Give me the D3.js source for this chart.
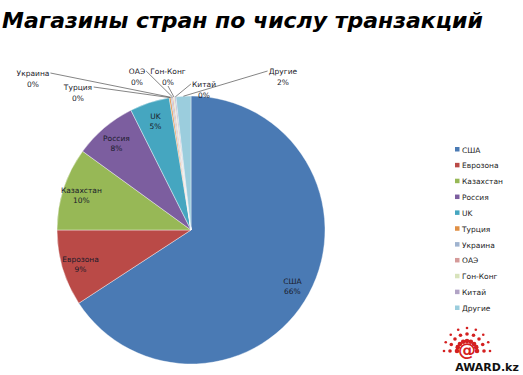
<!DOCTYPE html>
<html>
<head>
<meta charset="utf-8">
<script src="https://cdn.jsdelivr.net/npm/d3@7"></script>
<style>
  body { margin: 0; background: #fff; }
  svg { display: block; }
  text { font-family: "DejaVu Sans", sans-serif; }
</style>
</head>
<body>
<script>
// данные
var countries = ['США', 'Еврозона', 'Казахстан', 'Россия', 'UK', 'Турция', 'Украина', 'ОАЭ', 'Гон-Конг', 'Китай', 'Другие'];
var shares = [65.8, 9.2, 10.0, 7.6, 4.8, 0.2, 0.15, 0.15, 0.15, 0.15, 1.8];
var colors = ['#4A7AB4', '#BA4A47', '#97B856', '#7C5E9F', '#45A6C0', '#E08F44',
              '#9FB3CF', '#D59A99', '#D8E3BC', '#B1A3C5', '#9BCDDD'];
var title = 'Магазины стран по числу транзакций';

// подписи снаружи (руками, как в экселе)
var outside = {
  'Украина':  [-158, -154],
  'Турция':   [-113, -140],
  'ОАЭ':      [-54, -156],
  'Гон-Конг': [-23, -156],
  'Китай':    [13, -143],
  'Другие':   [92, -156]
};

var width = 523, height = 375;
var cx = 191, cy = 230, R = 134;

var svg = d3.select('body').append('svg')
  .attr('width', width)
  .attr('height', height);

// заголовок
var t = svg.append('text')
  .attr('x', 2)
  .attr('y', 28)
  .attr('font-family', '"Open Sans", Lato, sans-serif')
  .attr('font-style', 'italic')
  .attr('font-weight', 'bold')
  .attr('font-size', 28)
  .attr('fill', '#000')
  .text(title);
var tw = t.node().getComputedTextLength();
t.attr('font-size', 28 * 481 / tw);

var data = countries.map(function(c, i) {
  return { name: c, value: shares[i], color: colors[i] };
});
var total = d3.sum(shares);

var pie = d3.pie()
  .sort(null)
  .value(function(d) { return d.value; });
var arcs = pie(data);
var arc = d3.arc().innerRadius(0).outerRadius(R);

var g = svg.append('g')
  .attr('transform', 'translate(' + cx + ',' + cy + ')');

g.selectAll('path')
  .data(arcs)
  .enter().append('path')
    .attr('d', arc)
    .attr('fill', function(d) { return d.data.color; })
    .attr('stroke', '#fff')
    .attr('stroke-width', 0.4);

function pct(d) {
  return Math.round(d.data.value / total * 100) + '%';
}

// подписи внутри
var inner = arcs.filter(function(d) { return !outside[d.data.name]; });
var labelArc = d3.arc().innerRadius(R * 0.86).outerRadius(R * 0.86);
var lab = g.selectAll('.inlab')
  .data(inner)
  .enter().append('text')
    .attr('class', 'inlab')
    .attr('text-anchor', 'middle')
    .attr('font-size', 7.5)
    .attr('fill', '#1a1a2a')
    .attr('transform', function(d) {
      return 'translate(' + labelArc.centroid(d) + ')';
    });
lab.append('tspan').attr('x', 0).attr('dy', -1).text(function(d) { return d.data.name; });
lab.append('tspan').attr('x', 0).attr('dy', 10).text(pct);

// подписи снаружи + выноски
var outer = arcs.filter(function(d) { return outside[d.data.name]; });
var edge = d3.arc().innerRadius(R).outerRadius(R);
outer.forEach(function(d) {
  var p = outside[d.data.name];
  var e = edge.centroid(d);
  var lx = p[0], ly = p[1];
  var tx = g.append('text')
    .attr('text-anchor', 'middle')
    .attr('font-size', 7.5)
    .attr('fill', '#1a1a2a')
    .attr('transform', 'translate(' + lx + ',' + ly + ')');
  tx.append('tspan').attr('x', 0).attr('dy', 0).text(d.data.name);
  tx.append('tspan').attr('x', 0).attr('dy', 10.5).text(pct(d));
  var w = tx.node().getBBox().width;
  var sx, sy;
  if (d.data.name == 'Гон-Конг') {
    sx = lx; sy = ly + 12;
  } else if (lx < e[0]) {
    sx = lx + w / 2 + 1; sy = ly - 3;
  } else {
    sx = lx - w / 2 - 1; sy = ly - 3;
  }
  g.append('path')
    .attr('d', 'M' + sx + ',' + sy + 'L' + e[0] + ',' + e[1])
    .attr('fill', 'none')
    .attr('stroke', '#333')
    .attr('stroke-width', 0.6);
});

// легенда
var legend = svg.append('g')
  .attr('transform', 'translate(455,150)');
var li = legend.selectAll('g')
  .data(data)
  .enter().append('g')
    .attr('transform', function(d, i) { return 'translate(0,' + (i * 15.85) + ')'; });
li.append('rect')
  .attr('x', 0).attr('y', -3)
  .attr('width', 4.5).attr('height', 4.5)
  .attr('fill', function(d) { return d.color; });
li.append('text')
  .attr('x', 7).attr('y', 2.5)
  .attr('font-size', 7.5)
  .attr('fill', '#222')
  .text(function(d) { return d.name; });

// логотип AWARD.kz
var logo = svg.append('g').attr('transform', 'translate(467,349)');
d3.range(0, 9).forEach(function(i) {
  var a = -Math.PI + i * Math.PI / 8;
  [10, 17, 23].forEach(function(r, k) {
    logo.append('circle')
      .attr('cx', r * Math.cos(a))
      .attr('cy', r * Math.sin(a) + 2)
      .attr('r', 2.3 - k * 0.5)
      .attr('fill', '#d42020');
  });
});
logo.append('text')
  .attr('x', 0).attr('y', 7)
  .attr('text-anchor', 'middle')
  .attr('font-family', '"DejaVu Sans", sans-serif')
  .attr('font-weight', 'bold')
  .attr('font-size', 18)
  .attr('fill', '#d42020')
  .text('@');
logo.append('text')
  .attr('x', 20).attr('y', 22)
  .attr('text-anchor', 'middle')
  .attr('font-family', '"Liberation Sans", Arial, sans-serif')
  .attr('font-weight', 'bold')
  .attr('font-size', 11)
  .attr('fill', '#111')
  .attr('stroke', '#fff')
  .attr('stroke-width', 2)
  .attr('paint-order', 'stroke')
  .text('AWARD.kz');
</script>
</body>
</html>
